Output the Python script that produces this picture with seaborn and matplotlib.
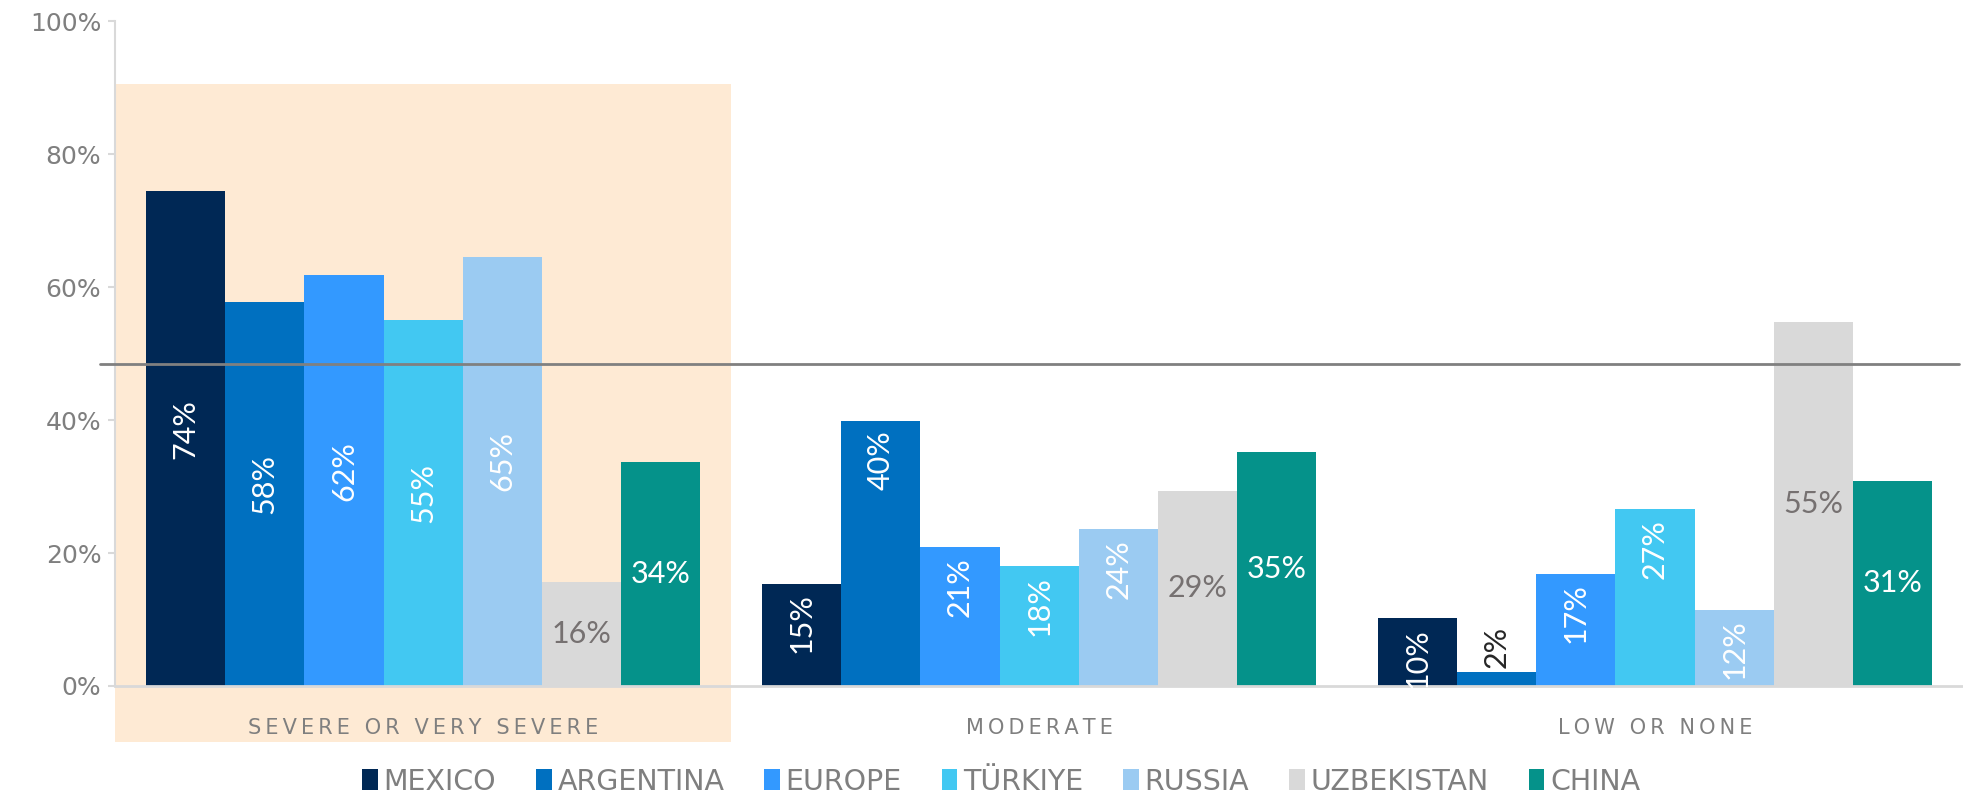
import pandas as pd
import seaborn as sns
import matplotlib.pyplot as plt
from matplotlib.patches import Patch, Rectangle

# Data
levels = ['SEVERE OR VERY SEVERE', 'MODERATE', 'LOW OR NONE']
countries = ['MEXICO', 'ARGENTINA', 'EUROPE', 'TÜRKIYE', 'RUSSIA', 'UZBEKISTAN', 'CHINA']
mexico = [74.4, 15.4, 10.2]
argentina = [57.8, 39.9, 2.1]
europe = [61.8, 20.9, 16.9]
turkiye = [55.0, 18.1, 26.6]
russia = [64.6, 23.6, 11.5]
uzbekistan = [15.6, 29.4, 54.8]
china = [33.7, 35.2, 30.9]
reference_level = 48.5

colors = ['#002855', '#0070C0', '#3399FF', '#42C8F2', '#9BCBF2', '#D9D9D9', '#05928A']
gray = '#7f7f7f'

series = [mexico, argentina, europe, turkiye, russia, uzbekistan, china]
df = pd.DataFrame([
    {'level': lv, 'country': c, 'value': vals[i]}
    for c, vals in zip(countries, series)
    for i, lv in enumerate(levels)
])

sns.set_style('white')

fig = plt.figure(figsize=(19.63, 8.01), dpi=100)
ax = fig.add_axes([0.0587, 0.1436, 0.9413, 0.8298])

# Create grouped bars
sns.barplot(data=df, x='level', y='value', hue='country', order=levels,
            hue_order=countries, palette=colors, saturation=1, width=0.9,
            linewidth=0, legend=False, ax=ax, zorder=2)

ax.set_xlim(-0.5, 2.5)
ax.set_ylim(0, 100)

# Highlight the first group (extends below the axis)
ax.add_patch(Rectangle((-0.5, -8.4), 1.0, 99.0, facecolor='#FEEAD4',
                       edgecolor='none', zorder=0, clip_on=False))

# Reference line
ax.axhline(reference_level, xmin=-0.008, xmax=0.998, color='#808080',
           linewidth=2, zorder=4, clip_on=False)

# Bar labels
lab_size = 22
for k, cont in enumerate(ax.containers):
    for bar in cont:
        v = bar.get_height()
        x = bar.get_x() + bar.get_width() / 2
        txt = f'{v:.0f}%'
        if countries[k] in ('UZBEKISTAN', 'CHINA'):
            col = '#767171' if countries[k] == 'UZBEKISTAN' else 'white'
            ax.text(x, v / 2, txt, ha='center', va='center', color=col,
                    fontsize=lab_size, family='Lato', zorder=5)
        elif v < 8:
            ax.text(x, v + 0.6, txt, ha='center', va='bottom', rotation=90,
                    color='#262626', fontsize=lab_size, family='Lato', zorder=5)
        elif v >= 45:
            ax.text(x, v / 2 + 1.5, txt, ha='center', va='center', rotation=90,
                    color='white', fontsize=lab_size, family='Lato', zorder=5)
        else:
            ax.text(x, v - 1.5, txt, ha='center', va='top', rotation=90,
                    color='white', fontsize=lab_size, family='Lato', zorder=5)

# Axes styling
ax.set_yticks(range(0, 101, 20))
ax.set_yticklabels([f'{t}%' for t in range(0, 101, 20)])
ax.set_xticks(range(len(levels)))
ax.set_xticklabels(['\u2009'.join(lv) for lv in levels])
ax.set_xlabel('')
ax.set_ylabel('')
ax.tick_params(axis='y', labelsize=18, labelcolor=gray, color='#D9D9D9',
               length=5, width=1.5, left=True, pad=5)
ax.tick_params(axis='x', labelsize=15, labelcolor=gray, length=0, pad=23)
for s in ['top', 'right']:
    ax.spines[s].set_visible(False)
ax.spines['left'].set_color('#D9D9D9')
ax.spines['left'].set_linewidth(1.5)
ax.spines['bottom'].set_color('#D9D9D9')
ax.spines['bottom'].set_linewidth(2)
ax.spines['bottom'].set_zorder(3)

# Legend at bottom
handles = [Patch(facecolor=c, edgecolor='none') for c in colors]
fig.legend(handles, countries, ncol=7, loc='center', bbox_to_anchor=(0.51, 0.024),
           frameon=False, fontsize=20.5, labelcolor=gray, handlelength=0.55,
           handleheight=0.75, handletextpad=0.2, columnspacing=1.4)

plt.savefig('out.png', dpi=100)
